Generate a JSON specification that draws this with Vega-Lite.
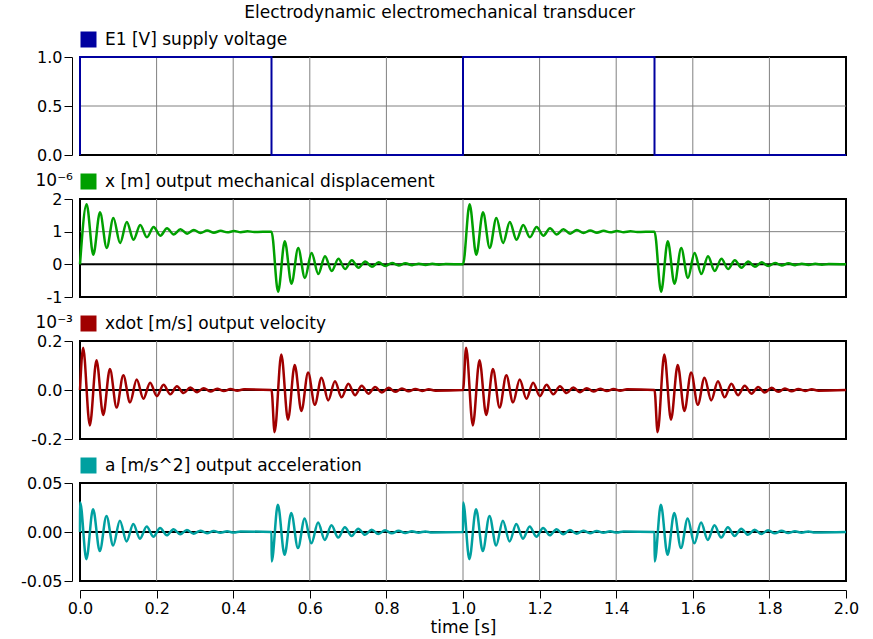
{
  "$schema": "https://vega.github.io/schema/vega-lite/v6.json",
  "background": "white",
  "padding": {"left": 19, "top": 4, "right": 10, "bottom": 0},
  "title": {"text": "Electrodynamic electromechanical transducer", "anchor": "middle", "frame": "bounds", "font": "DejaVu Sans", "fontSize": 17, "fontWeight": "normal", "color": "black", "offset": 8},
  "spacing": 44,
  "bounds": "flush",
  "datasets": {
    "gx": [{"t": 0.2}, {"t": 0.4}, {"t": 0.6}, {"t": 0.8}, {"t": 1.0}, {"t": 1.2}, {"t": 1.4}, {"t": 1.6}, {"t": 1.8}],
    "e1": [
      {"t": 0, "v": 0}, {"t": 0, "v": 1}, {"t": 0.5, "v": 1}, {"t": 0.5, "v": 0},
      {"t": 1.0, "v": 0}, {"t": 1.0, "v": 1}, {"t": 1.5, "v": 1}, {"t": 1.5, "v": 0}, {"t": 2.0, "v": 0}
    ],
    "x": [
      {"t": 0, "v": 0}, {"t": 0.0172, "v": 1.84}, {"t": 0.0347, "v": 0.295}, {"t": 0.0522, "v": 1.592}, {"t": 0.0697, "v": 0.503}, {"t": 0.0872, "v": 1.417}, {"t": 0.1047, "v": 0.65}, {"t": 0.1222, "v": 1.294}, {"t": 0.1397, "v": 0.753}, {"t": 0.1572, "v": 1.207}, {"t": 0.1747, "v": 0.826}, {"t": 0.1922, "v": 1.146}, {"t": 0.2097, "v": 0.877}, {"t": 0.2272, "v": 1.103}, {"t": 0.2447, "v": 0.914}, {"t": 0.2622, "v": 1.073}, {"t": 0.2797, "v": 0.939}, {"t": 0.2972, "v": 1.051}, {"t": 0.3147, "v": 0.957}, {"t": 0.3322, "v": 1.036}, {"t": 0.3497, "v": 0.97}, {"t": 0.3672, "v": 1.025}, {"t": 0.3847, "v": 0.979}, {"t": 0.4022, "v": 1.018}, {"t": 0.4197, "v": 0.985}, {"t": 0.4372, "v": 1.013}, {"t": 0.4547, "v": 0.989},
      {"t": 0.5, "v": 1}, {"t": 0.5172, "v": -0.84}, {"t": 0.5347, "v": 0.705}, {"t": 0.5522, "v": -0.592}, {"t": 0.5697, "v": 0.497}, {"t": 0.5872, "v": -0.417}, {"t": 0.6047, "v": 0.35}, {"t": 0.6222, "v": -0.294}, {"t": 0.6397, "v": 0.247}, {"t": 0.6572, "v": -0.207}, {"t": 0.6747, "v": 0.174}, {"t": 0.6922, "v": -0.146}, {"t": 0.7097, "v": 0.123}, {"t": 0.7272, "v": -0.103}, {"t": 0.7447, "v": 0.086}, {"t": 0.7622, "v": -0.073}, {"t": 0.7797, "v": 0.061}, {"t": 0.7972, "v": -0.051}, {"t": 0.8147, "v": 0.043}, {"t": 0.8322, "v": -0.036}, {"t": 0.8497, "v": 0.03}, {"t": 0.8672, "v": -0.025}, {"t": 0.8847, "v": 0.021}, {"t": 0.9022, "v": -0.018}, {"t": 0.9197, "v": 0.015}, {"t": 0.9372, "v": -0.013}, {"t": 0.9547, "v": 0.011},
      {"t": 1.0, "v": 0}, {"t": 1.0172, "v": 1.84}, {"t": 1.0347, "v": 0.295}, {"t": 1.0522, "v": 1.592}, {"t": 1.0697, "v": 0.503}, {"t": 1.0872, "v": 1.417}, {"t": 1.1047, "v": 0.65}, {"t": 1.1222, "v": 1.294}, {"t": 1.1397, "v": 0.753}, {"t": 1.1572, "v": 1.207}, {"t": 1.1747, "v": 0.826}, {"t": 1.1922, "v": 1.146}, {"t": 1.2097, "v": 0.877}, {"t": 1.2272, "v": 1.103}, {"t": 1.2447, "v": 0.914}, {"t": 1.2622, "v": 1.073}, {"t": 1.2797, "v": 0.939}, {"t": 1.2972, "v": 1.051}, {"t": 1.3147, "v": 0.957}, {"t": 1.3322, "v": 1.036}, {"t": 1.3497, "v": 0.97}, {"t": 1.3672, "v": 1.025}, {"t": 1.3847, "v": 0.979}, {"t": 1.4022, "v": 1.018}, {"t": 1.4197, "v": 0.985}, {"t": 1.4372, "v": 1.013}, {"t": 1.4547, "v": 0.989},
      {"t": 1.5, "v": 1}, {"t": 1.5172, "v": -0.84}, {"t": 1.5347, "v": 0.705}, {"t": 1.5522, "v": -0.592}, {"t": 1.5697, "v": 0.497}, {"t": 1.5872, "v": -0.417}, {"t": 1.6047, "v": 0.35}, {"t": 1.6222, "v": -0.294}, {"t": 1.6397, "v": 0.247}, {"t": 1.6572, "v": -0.207}, {"t": 1.6747, "v": 0.174}, {"t": 1.6922, "v": -0.146}, {"t": 1.7097, "v": 0.123}, {"t": 1.7272, "v": -0.103}, {"t": 1.7447, "v": 0.086}, {"t": 1.7622, "v": -0.073}, {"t": 1.7797, "v": 0.061}, {"t": 1.7972, "v": -0.051}, {"t": 1.8147, "v": 0.043}, {"t": 1.8322, "v": -0.036}, {"t": 1.8497, "v": 0.03}, {"t": 1.8672, "v": -0.025}, {"t": 1.8847, "v": 0.021}, {"t": 1.9022, "v": -0.018}, {"t": 1.9197, "v": 0.015}, {"t": 1.9372, "v": -0.013}, {"t": 1.9547, "v": 0.011}, {"t": 2.0, "v": 0}
    ],
    "xdot": [
      {"t": 0, "v": 0}, {"t": 0.0081, "v": 0.172}, {"t": 0.0256, "v": -0.1444}, {"t": 0.0431, "v": 0.1212}, {"t": 0.0606, "v": -0.1018}, {"t": 0.0781, "v": 0.0854}, {"t": 0.0956, "v": -0.0717}, {"t": 0.1131, "v": 0.0602}, {"t": 0.1306, "v": -0.0505}, {"t": 0.1481, "v": 0.0424}, {"t": 0.1656, "v": -0.0356}, {"t": 0.1831, "v": 0.0299}, {"t": 0.2006, "v": -0.0251}, {"t": 0.2181, "v": 0.0211}, {"t": 0.2356, "v": -0.0177}, {"t": 0.2531, "v": 0.0149}, {"t": 0.2706, "v": -0.0125}, {"t": 0.2881, "v": 0.0105}, {"t": 0.3056, "v": -0.0088}, {"t": 0.3231, "v": 0.0074}, {"t": 0.3406, "v": -0.0062}, {"t": 0.3581, "v": 0.0052}, {"t": 0.3756, "v": -0.0044}, {"t": 0.3931, "v": 0.0037}, {"t": 0.4106, "v": -0.0031}, {"t": 0.4281, "v": 0.0026},
      {"t": 0.5, "v": 0}, {"t": 0.5081, "v": -0.172}, {"t": 0.5256, "v": 0.1444}, {"t": 0.5431, "v": -0.1212}, {"t": 0.5606, "v": 0.1018}, {"t": 0.5781, "v": -0.0854}, {"t": 0.5956, "v": 0.0717}, {"t": 0.6131, "v": -0.0602}, {"t": 0.6306, "v": 0.0505}, {"t": 0.6481, "v": -0.0424}, {"t": 0.6656, "v": 0.0356}, {"t": 0.6831, "v": -0.0299}, {"t": 0.7006, "v": 0.0251}, {"t": 0.7181, "v": -0.0211}, {"t": 0.7356, "v": 0.0177}, {"t": 0.7531, "v": -0.0149}, {"t": 0.7706, "v": 0.0125}, {"t": 0.7881, "v": -0.0105}, {"t": 0.8056, "v": 0.0088}, {"t": 0.8231, "v": -0.0074}, {"t": 0.8406, "v": 0.0062}, {"t": 0.8581, "v": -0.0052}, {"t": 0.8756, "v": 0.0044}, {"t": 0.8931, "v": -0.0037}, {"t": 0.9106, "v": 0.0031}, {"t": 0.9281, "v": -0.0026},
      {"t": 1.0, "v": 0}, {"t": 1.0081, "v": 0.172}, {"t": 1.0256, "v": -0.1444}, {"t": 1.0431, "v": 0.1212}, {"t": 1.0606, "v": -0.1018}, {"t": 1.0781, "v": 0.0854}, {"t": 1.0956, "v": -0.0717}, {"t": 1.1131, "v": 0.0602}, {"t": 1.1306, "v": -0.0505}, {"t": 1.1481, "v": 0.0424}, {"t": 1.1656, "v": -0.0356}, {"t": 1.1831, "v": 0.0299}, {"t": 1.2006, "v": -0.0251}, {"t": 1.2181, "v": 0.0211}, {"t": 1.2356, "v": -0.0177}, {"t": 1.2531, "v": 0.0149}, {"t": 1.2706, "v": -0.0125}, {"t": 1.2881, "v": 0.0105}, {"t": 1.3056, "v": -0.0088}, {"t": 1.3231, "v": 0.0074}, {"t": 1.3406, "v": -0.0062}, {"t": 1.3581, "v": 0.0052}, {"t": 1.3756, "v": -0.0044}, {"t": 1.3931, "v": 0.0037}, {"t": 1.4106, "v": -0.0031}, {"t": 1.4281, "v": 0.0026},
      {"t": 1.5, "v": 0}, {"t": 1.5081, "v": -0.172}, {"t": 1.5256, "v": 0.1444}, {"t": 1.5431, "v": -0.1212}, {"t": 1.5606, "v": 0.1018}, {"t": 1.5781, "v": -0.0854}, {"t": 1.5956, "v": 0.0717}, {"t": 1.6131, "v": -0.0602}, {"t": 1.6306, "v": 0.0505}, {"t": 1.6481, "v": -0.0424}, {"t": 1.6656, "v": 0.0356}, {"t": 1.6831, "v": -0.0299}, {"t": 1.7006, "v": 0.0251}, {"t": 1.7181, "v": -0.0211}, {"t": 1.7356, "v": 0.0177}, {"t": 1.7531, "v": -0.0149}, {"t": 1.7706, "v": 0.0125}, {"t": 1.7881, "v": -0.0105}, {"t": 1.8056, "v": 0.0088}, {"t": 1.8231, "v": -0.0074}, {"t": 1.8406, "v": 0.0062}, {"t": 1.8581, "v": -0.0052}, {"t": 1.8756, "v": 0.0044}, {"t": 1.8931, "v": -0.0037}, {"t": 1.9106, "v": 0.0031}, {"t": 1.9281, "v": -0.0026}, {"t": 2.0, "v": 0}
    ],
    "a": [
      {"t": 0, "v": 0}, {"t": 0.0005, "v": 0.03}, {"t": 0.0166, "v": -0.0277}, {"t": 0.0341, "v": 0.0233}, {"t": 0.0516, "v": -0.0195}, {"t": 0.0691, "v": 0.0164}, {"t": 0.0866, "v": -0.0138}, {"t": 0.1041, "v": 0.0116}, {"t": 0.1216, "v": -0.0097}, {"t": 0.1391, "v": 0.0081}, {"t": 0.1566, "v": -0.0068}, {"t": 0.1741, "v": 0.0057}, {"t": 0.1916, "v": -0.0048}, {"t": 0.2091, "v": 0.004}, {"t": 0.2266, "v": -0.0034}, {"t": 0.2441, "v": 0.0029}, {"t": 0.2616, "v": -0.0024}, {"t": 0.2791, "v": 0.002}, {"t": 0.2966, "v": -0.0017}, {"t": 0.3141, "v": 0.0014}, {"t": 0.3316, "v": -0.0012}, {"t": 0.3491, "v": 0.001}, {"t": 0.3666, "v": -0.0008}, {"t": 0.3841, "v": 0.0007}, {"t": 0.4016, "v": -0.0006}, {"t": 0.4191, "v": 0.0005},
      {"t": 0.5, "v": 0}, {"t": 0.5005, "v": -0.03}, {"t": 0.5166, "v": 0.0277}, {"t": 0.5341, "v": -0.0233}, {"t": 0.5516, "v": 0.0195}, {"t": 0.5691, "v": -0.0164}, {"t": 0.5866, "v": 0.0138}, {"t": 0.6041, "v": -0.0116}, {"t": 0.6216, "v": 0.0097}, {"t": 0.6391, "v": -0.0081}, {"t": 0.6566, "v": 0.0068}, {"t": 0.6741, "v": -0.0057}, {"t": 0.6916, "v": 0.0048}, {"t": 0.7091, "v": -0.004}, {"t": 0.7266, "v": 0.0034}, {"t": 0.7441, "v": -0.0029}, {"t": 0.7616, "v": 0.0024}, {"t": 0.7791, "v": -0.002}, {"t": 0.7966, "v": 0.0017}, {"t": 0.8141, "v": -0.0014}, {"t": 0.8316, "v": 0.0012}, {"t": 0.8491, "v": -0.001}, {"t": 0.8666, "v": 0.0008}, {"t": 0.8841, "v": -0.0007}, {"t": 0.9016, "v": 0.0006}, {"t": 0.9191, "v": -0.0005},
      {"t": 1.0, "v": 0}, {"t": 1.0005, "v": 0.03}, {"t": 1.0166, "v": -0.0277}, {"t": 1.0341, "v": 0.0233}, {"t": 1.0516, "v": -0.0195}, {"t": 1.0691, "v": 0.0164}, {"t": 1.0866, "v": -0.0138}, {"t": 1.1041, "v": 0.0116}, {"t": 1.1216, "v": -0.0097}, {"t": 1.1391, "v": 0.0081}, {"t": 1.1566, "v": -0.0068}, {"t": 1.1741, "v": 0.0057}, {"t": 1.1916, "v": -0.0048}, {"t": 1.2091, "v": 0.004}, {"t": 1.2266, "v": -0.0034}, {"t": 1.2441, "v": 0.0029}, {"t": 1.2616, "v": -0.0024}, {"t": 1.2791, "v": 0.002}, {"t": 1.2966, "v": -0.0017}, {"t": 1.3141, "v": 0.0014}, {"t": 1.3316, "v": -0.0012}, {"t": 1.3491, "v": 0.001}, {"t": 1.3666, "v": -0.0008}, {"t": 1.3841, "v": 0.0007}, {"t": 1.4016, "v": -0.0006}, {"t": 1.4191, "v": 0.0005},
      {"t": 1.5, "v": 0}, {"t": 1.5005, "v": -0.03}, {"t": 1.5166, "v": 0.0277}, {"t": 1.5341, "v": -0.0233}, {"t": 1.5516, "v": 0.0195}, {"t": 1.5691, "v": -0.0164}, {"t": 1.5866, "v": 0.0138}, {"t": 1.6041, "v": -0.0116}, {"t": 1.6216, "v": 0.0097}, {"t": 1.6391, "v": -0.0081}, {"t": 1.6566, "v": 0.0068}, {"t": 1.6741, "v": -0.0057}, {"t": 1.6916, "v": 0.0048}, {"t": 1.7091, "v": -0.004}, {"t": 1.7266, "v": 0.0034}, {"t": 1.7441, "v": -0.0029}, {"t": 1.7616, "v": 0.0024}, {"t": 1.7791, "v": -0.002}, {"t": 1.7966, "v": 0.0017}, {"t": 1.8141, "v": -0.0014}, {"t": 1.8316, "v": 0.0012}, {"t": 1.8491, "v": -0.001}, {"t": 1.8666, "v": 0.0008}, {"t": 1.8841, "v": -0.0007}, {"t": 1.9016, "v": 0.0006}, {"t": 1.9191, "v": -0.0005}, {"t": 2.0, "v": 0}
    ]
  },
  "vconcat": [
    {
      "width": 766, "height": 98,
      "layer": [
        {"data": {"name": "gx"}, "mark": {"type": "rule", "color": "#808080", "strokeWidth": 1}, "encoding": {"x": {"field": "t", "type": "quantitative", "axis": null}}},
        {"data": {"values": [{"g": 0.5}]}, "mark": {"type": "rule", "color": "#808080", "strokeWidth": 1}, "encoding": {"y": {"field": "g", "type": "quantitative", "axis": {"values": [0, 0.5, 1], "tickCount": 10, "format": ".1f", "title": null}}}},
        {
          "data": {"name": "e1"},
          "mark": {"type": "line", "strokeWidth": 2, "interpolate": "linear"},
          "encoding": {
            "x": {"field": "t", "type": "quantitative", "scale": {"domain": [0, 2], "nice": false}, "axis": null},
            "y": {"field": "v", "type": "quantitative", "scale": {"domain": [0, 1], "nice": false, "zero": false}, "axis": {"values": [0, 0.5, 1], "tickCount": 10, "format": ".1f", "title": null}},
            "color": {"datum": "E1 [V] supply voltage", "scale": {"range": ["#0000a0"]}, "legend": {"symbolFillColor": "#0000a0"}}
          }
        }
      ]
    },
    {
      "width": 766, "height": 98,
      "layer": [
        {"data": {"name": "gx"}, "mark": {"type": "rule", "color": "#808080", "strokeWidth": 1}, "encoding": {"x": {"field": "t", "type": "quantitative", "axis": null}}},
        {"data": {"values": [{"g": 1}]}, "mark": {"type": "rule", "color": "#808080", "strokeWidth": 1}, "encoding": {"y": {"field": "g", "type": "quantitative", "axis": {"values": [-1, 0, 1, 2], "tickCount": 10, "format": "d", "labelExpr": "replace(datum.label, '\u2212', '-')", "title": "10\u207b\u2076", "titleAngle": 0, "titleAlign": "left", "titleBaseline": "alphabetic", "titleX": -37, "titleY": -14}}}},
        {"data": {"values": [{}]}, "mark": {"type": "rule", "color": "black", "strokeWidth": 2}, "encoding": {"y": {"datum": 0, "type": "quantitative"}}},
        {
          "data": {"name": "x"},
          "mark": {"type": "line", "strokeWidth": 2.5, "interpolate": "monotone"},
          "encoding": {
            "x": {"field": "t", "type": "quantitative", "scale": {"domain": [0, 2], "nice": false}, "axis": null},
            "y": {"field": "v", "type": "quantitative", "scale": {"domain": [-1, 2], "nice": false, "zero": false}, "axis": {"values": [-1, 0, 1, 2], "tickCount": 10, "format": "d", "labelExpr": "replace(datum.label, '\u2212', '-')", "title": "10\u207b\u2076", "titleAngle": 0, "titleAlign": "left", "titleBaseline": "alphabetic", "titleX": -37, "titleY": -14}},
            "color": {"datum": "x [m] output mechanical displacement", "scale": {"range": ["#00a000"]}, "legend": {"symbolFillColor": "#00a000"}}
          }
        }
      ]
    },
    {
      "width": 766, "height": 98,
      "layer": [
        {"data": {"name": "gx"}, "mark": {"type": "rule", "color": "#808080", "strokeWidth": 1}, "encoding": {"x": {"field": "t", "type": "quantitative", "axis": null}}},
        {"data": {"values": [{}]}, "mark": {"type": "rule", "color": "black", "strokeWidth": 2}, "encoding": {"y": {"datum": 0, "type": "quantitative"}}},
        {
          "data": {"name": "xdot"},
          "mark": {"type": "line", "strokeWidth": 2.5, "interpolate": "monotone"},
          "encoding": {
            "x": {"field": "t", "type": "quantitative", "scale": {"domain": [0, 2], "nice": false}, "axis": null},
            "y": {"field": "v", "type": "quantitative", "scale": {"domain": [-0.2, 0.2], "nice": false, "zero": false}, "axis": {"values": [-0.2, 0, 0.2], "tickCount": 10, "format": ".1f", "labelExpr": "replace(datum.label, '\u2212', '-')", "title": "10\u207b\u00b3", "titleAngle": 0, "titleAlign": "left", "titleBaseline": "alphabetic", "titleX": -37, "titleY": -14}},
            "color": {"datum": "xdot [m/s] output velocity", "scale": {"range": ["#a00000"]}, "legend": {"symbolFillColor": "#a00000"}}
          }
        }
      ]
    },
    {
      "width": 766, "height": 98,
      "layer": [
        {"data": {"name": "gx"}, "mark": {"type": "rule", "color": "#808080", "strokeWidth": 1}, "encoding": {"x": {"field": "t", "type": "quantitative", "axis": {"values": [0, 0.2, 0.4, 0.6, 0.8, 1.0, 1.2, 1.4, 1.6, 1.8, 2.0], "tickCount": 20, "format": ".1f", "labelFlush": false, "title": "time [s]", "titlePadding": 3}}}},
        {"data": {"values": [{}]}, "mark": {"type": "rule", "color": "black", "strokeWidth": 2}, "encoding": {"y": {"datum": 0, "type": "quantitative"}}},
        {
          "data": {"name": "a"},
          "mark": {"type": "line", "strokeWidth": 2.5, "interpolate": "monotone"},
          "encoding": {
            "x": {"field": "t", "type": "quantitative", "scale": {"domain": [0, 2], "nice": false}, "axis": {"values": [0, 0.2, 0.4, 0.6, 0.8, 1.0, 1.2, 1.4, 1.6, 1.8, 2.0], "tickCount": 20, "format": ".1f", "labelFlush": false, "title": "time [s]", "titlePadding": 3}},
            "y": {"field": "v", "type": "quantitative", "scale": {"domain": [-0.05, 0.05], "nice": false, "zero": false}, "axis": {"values": [-0.05, 0, 0.05], "tickCount": 10, "format": ".2f", "labelExpr": "replace(datum.label, '\u2212', '-')", "title": null}},
            "color": {"datum": "a [m/s^2] output acceleration", "scale": {"range": ["#00a0a0"]}, "legend": {"symbolFillColor": "#00a0a0"}}
          }
        }
      ]
    }
  ],
  "resolve": {"scale": {"color": "independent"}, "legend": {"color": "independent"}},
  "config": {
    "font": "DejaVu Sans",
    "view": {"stroke": "black", "strokeWidth": 2},
    "axis": {"grid": false, "labelFont": "DejaVu Sans", "labelFontSize": 16, "labelColor": "black", "titleFont": "DejaVu Sans", "titleFontSize": 17, "titleFontWeight": "normal", "titleColor": "black", "domainColor": "black", "domainWidth": 1, "tickColor": "black", "tickSize": 8, "tickWidth": 1, "labelPadding": 2},
    "axisY": {"offset": 8},
    "axisX": {"offset": 9},
    "legend": {"orient": "none", "legendX": 0, "legendY": -26, "title": null, "symbolType": "square", "symbolSize": 256, "symbolStrokeWidth": 0, "labelFont": "DejaVu Sans", "labelFontSize": 17, "labelColor": "black", "labelOffset": 8, "labelLimit": 0, "padding": 0}
  }
}
